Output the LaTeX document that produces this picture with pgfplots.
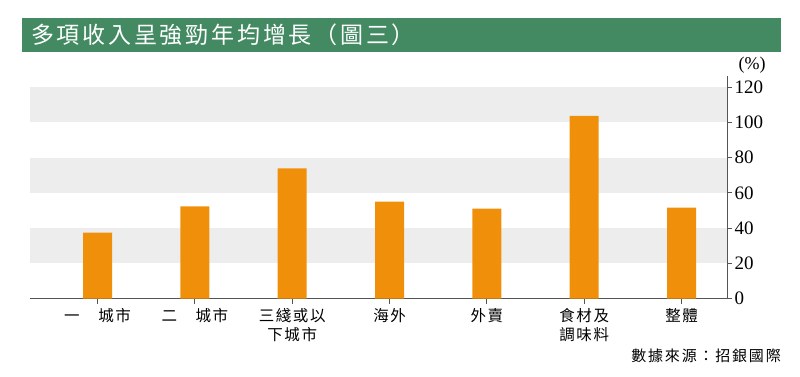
\documentclass[border=0pt]{standalone}
\usepackage{pgfplots}
\pgfplotsset{compat=1.18}
\usepackage{fontspec}
\setmainfont{Liberation Serif}
\newfontfamily\cjk[LetterSpace=10]{Noto Sans CJK TC}
\newfontfamily\cjksp[LetterSpace=12]{Noto Sans CJK TC}
\definecolor{titlegreen}{HTML}{438A63}
\definecolor{barorange}{HTML}{F0900A}
\definecolor{band}{HTML}{EDEDED}
\definecolor{axisgray}{HTML}{555555}
\begin{document}
\begin{tikzpicture}[x=1pt,y=1pt]
\useasboundingbox (0,0) rectangle (800,376);
\fill[titlegreen] (22,358) rectangle (781,324);
\node[anchor=west,text=white,inner sep=0pt,font=\cjksp\fontsize{23}{25}\selectfont] at (31,341) {多項收入呈強勁年均增長（圖三）};
\begin{axis}[
  at={(30pt,77.3pt)}, anchor=south west,
  scale only axis, width=697pt, height=222.3pt,
  xmin=-0.694, xmax=6.467, ymin=0, ymax=126,
  axis x line*=bottom, axis y line*=right,
  axis line style={axisgray, line width=1pt},
  every tick/.style={axisgray, line width=0.8pt},
  tick align=outside, major tick length=5pt,
  ytick={0,20,...,120},
  xtick={0,...,6},
  xticklabels={{一　城市},{二　城市},{三綫或以\\下城市},{海外},{外賣},{食材及\\調味料},{整體}},
  xticklabel style={font=\cjk\fontsize{15.5}{19}\selectfont, align=center, anchor=north, yshift=-1pt},
  yticklabel style={font=\fontsize{19}{19}\selectfont, xshift=-1pt},
  /pgf/number format/assume math mode=true,
  ybar, bar width=29pt,
]
\fill[band] (axis cs:-0.694,20) rectangle (axis cs:6.467,40);
\fill[band] (axis cs:-0.694,60) rectangle (axis cs:6.467,80);
\fill[band] (axis cs:-0.694,100) rectangle (axis cs:6.467,120);
\addplot[fill=barorange, draw=none] coordinates {(0,37.4) (1,52.4) (2,73.9) (3,55.0) (4,51.0) (5,103.6) (6,51.6)};
\end{axis}
\node[font=\fontsize{18}{18}\selectfont] at (752,311) {(\%)};
\node[anchor=east,inner sep=0pt,font=\cjksp\fontsize{15}{15}\selectfont] at (781,20) {數據來源：招銀國際};
\end{tikzpicture}
\end{document}
